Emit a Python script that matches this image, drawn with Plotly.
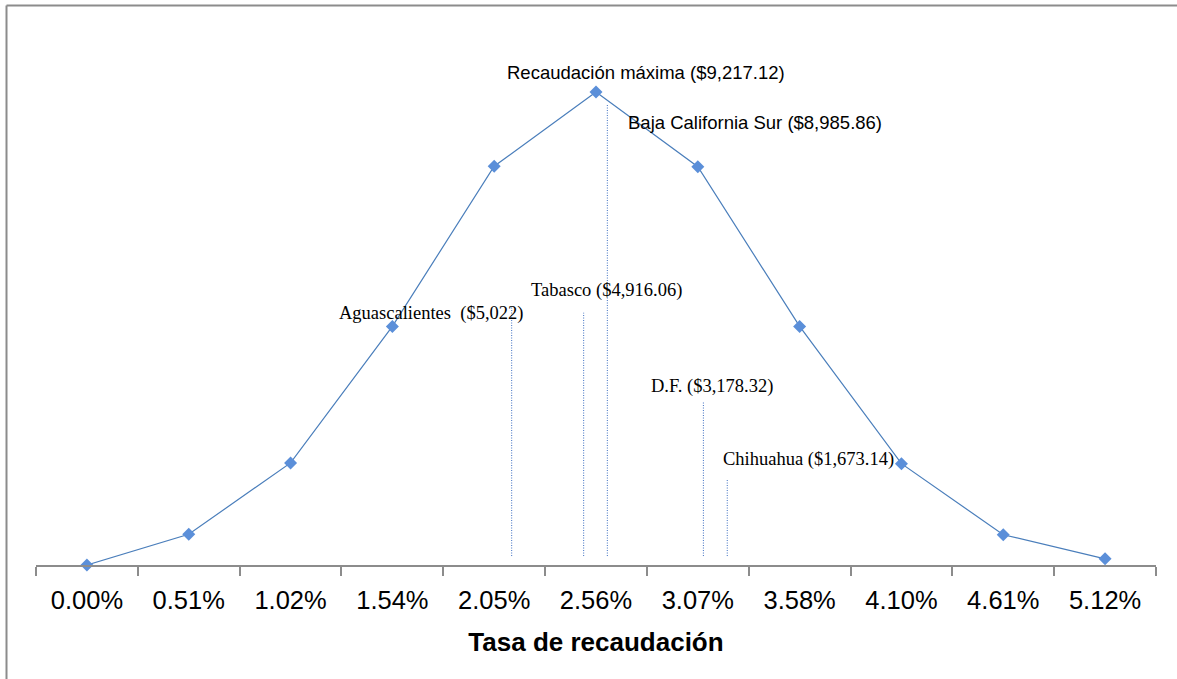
import plotly.graph_objects as go

# Tax rate categories (percent) and the revenue collected at each rate
rates = [0.0, 0.512, 1.024, 1.536, 2.048, 2.56, 3.072, 3.584, 4.096, 4.608, 5.12]
rate_labels = ["0.00%", "0.51%", "1.02%", "1.54%", "2.05%", "2.56%",
               "3.07%", "3.58%", "4.10%", "4.61%", "5.12%"]
revenue = [0, 600, 1990, 4650, 7770, 9217.12, 7760, 4650, 1975, 590, 120]

# States: effective rate (percent) and revenue
states = ["Aguascalientes", "Tabasco", "Baja California Sur", "D.F.", "Chihuahua"]
state_rates = [2.136, 2.498, 2.617, 3.100, 3.220]
state_revenue = [5022, 4916.06, 8985.86, 3178.32, 1673.14]
state_text = ["Aguascalientes  ($5,022)", "Tabasco ($4,916.06)",
              "Baja California Sur ($8,985.86)", "D.F. ($3,178.32)",
              "Chihuahua ($1,673.14)"]

W, H = 1177, 679
L, R, T, B = 36, 21, 40, 114
half = (rates[1] - rates[0]) / 2
x_range = [rates[0] - half, rates[-1] + half]
y_top = 10230.7
boundaries = [r - half for r in rates] + [rates[-1] + half]

SANS = "Liberation Sans, Arial, sans-serif"
SERIF = "Liberation Serif, Times New Roman, serif"

fig = go.Figure()

fig.add_trace(go.Scatter(
    x=rates, y=revenue, mode="lines+markers",
    line=dict(color="#4A7EBB", width=1.2),
    marker=dict(symbol="diamond", size=10, color="#5B8FD9",
                line=dict(color="#5B8FD9", width=0)),
    cliponaxis=False, showlegend=False, hoverinfo="skip"))

# Dotted drop lines for each state
base = 175
for sr, sv in zip(state_rates, state_revenue):
    fig.add_trace(go.Scatter(
        x=[sr, sr], y=[base, sv], mode="lines",
        line=dict(color="#3C6EC0", width=1, dash="1px,1.5px"),
        showlegend=False, hoverinfo="skip"))


def px_x(px):
    return x_range[0] + (px - L) / (W - L - R) * (x_range[1] - x_range[0])


def px_y(py):
    return (H - B - py) / (H - B - T) * y_top


annotations = [
    dict(text="Recaudación máxima ($9,217.12)", x=px_x(646), y=px_y(72),
         xanchor="center", font=dict(family=SANS, size=18.5)),
    dict(text=state_text[2], x=px_x(626), y=px_y(122),
         xanchor="left", font=dict(family=SANS, size=18.5)),
    dict(text=state_text[1], x=px_x(529), y=px_y(290),
         xanchor="left", font=dict(family=SERIF, size=18.5)),
    dict(text=state_text[0], x=px_x(337), y=px_y(313),
         xanchor="left", font=dict(family=SERIF, size=18.5)),
    dict(text=state_text[3], x=px_x(649), y=px_y(386),
         xanchor="left", font=dict(family=SERIF, size=18.5)),
    dict(text=state_text[4], x=px_x(721), y=px_y(459),
         xanchor="left", font=dict(family=SERIF, size=18.5)),
]
for a in annotations:
    a.update(xref="x", yref="y", yanchor="middle", showarrow=False)
    a["font"]["color"] = "#000000"

# Outer frame: left and top edges, ending at the canvas edges
pw, ph = W - L - R, H - B - T
fx = (6.5 - L) / pw
fy = (H - B - 5.5) / ph
frame = dict(color="#8C8C8C", width=2)
shapes = [
    dict(type="line", xref="paper", yref="paper", x0=fx, x1=fx,
         y0=-B / ph, y1=fy, line=frame),
    dict(type="line", xref="paper", yref="paper", x0=fx, x1=(W - L) / pw,
         y0=fy, y1=fy, line=frame),
]

fig.update_layout(
    width=W, height=H,
    margin=dict(l=L, r=R, t=T, b=B),
    paper_bgcolor="white", plot_bgcolor="white",
    annotations=annotations,
    shapes=shapes,
    xaxis=dict(
        range=x_range, tickmode="array", tickvals=rates, ticktext=rate_labels,
        ticks="", showgrid=False, zeroline=False,
        showline=True, linecolor="#8C8C8C", linewidth=2,
        tickfont=dict(family=SANS, size=25.5, color="#000000"),
        ticklabelstandoff=11,
        minor=dict(tickmode="array", tickvals=boundaries, ticks="outside",
                   ticklen=9, tickwidth=1.5, tickcolor="#8C8C8C",
                   showgrid=False),
        title=dict(text="<b>Tasa de recaudación</b>",
                   font=dict(family=SANS, size=26, color="#000000"),
                   standoff=20),
    ),
    yaxis=dict(range=[0, y_top], visible=False, showgrid=False,
               zeroline=False),
)

fig.write_html("out.html", config={"displayModeBar": False})

# Keep the page exactly the size of the figure (no body margin, no scrollbars)
with open("out.html", encoding="utf-8") as f:
    page = f.read()
page = page.replace(
    "<head>",
    "<head><style>html,body{margin:0;padding:0;overflow:hidden;}</style>", 1)
with open("out.html", "w", encoding="utf-8") as f:
    f.write(page)
